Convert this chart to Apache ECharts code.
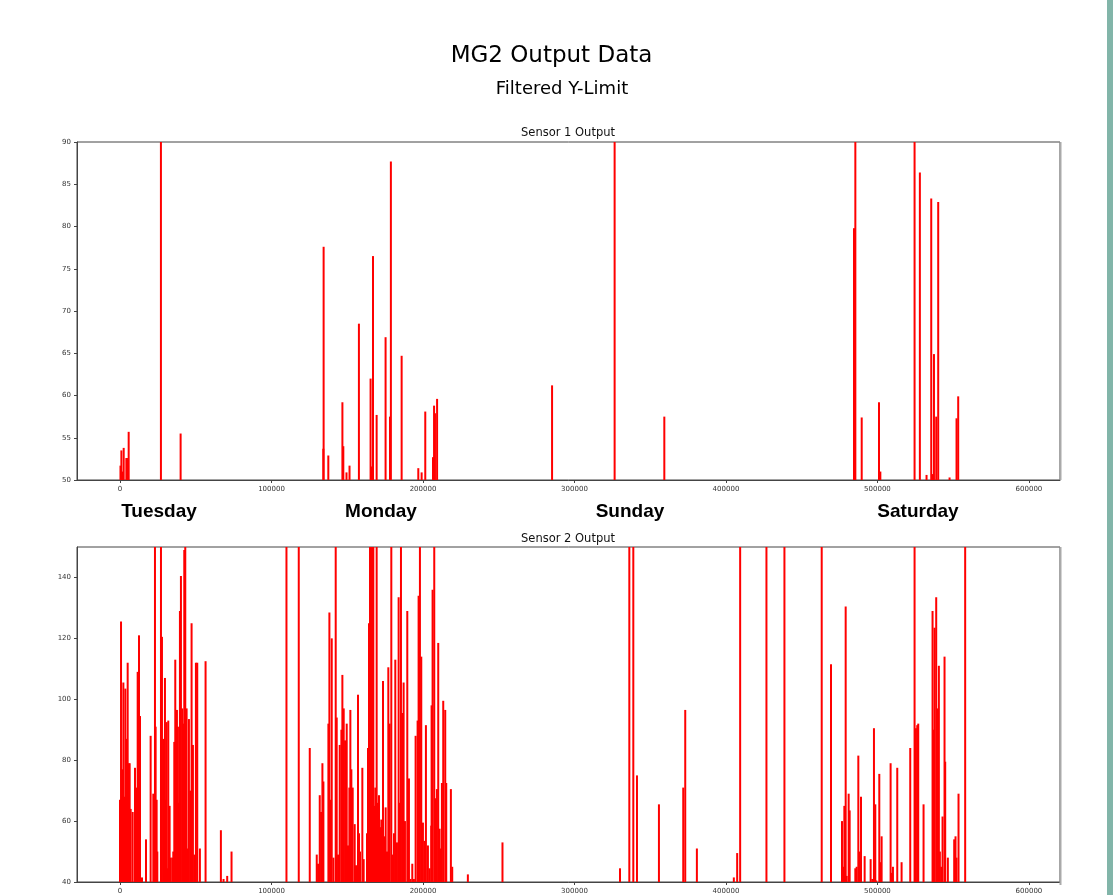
<!DOCTYPE html>
<html><head><meta charset="utf-8">
<script src="https://cdn.jsdelivr.net/npm/echarts@6/dist/echarts.min.js"></script>
<style>html,body{margin:0;padding:0;background:#fff;overflow:hidden}#c{width:1113px;height:895px}</style>
</head><body><div id="c"></div><script>
// ---- data (sample index, sensor value); values above the y-limit are clipped ----
const sensor1X = [300, 900, 1540, 2420, 4170, 4830, 5710, 27000, 40000, 134200, 134400, 137500,
  146800, 147400, 149500, 151500, 157700, 165400, 166300, 167000, 169400, 175300, 178200, 178800,
  185900, 196900, 199100, 201500, 206600, 207300, 207900, 209300, 285200, 326500, 359300, 484500,
  485400, 489600, 501000, 501900, 524500, 528000, 532400, 535500, 536400, 537300, 538800, 540100,
  547600, 552200, 553300];
const sensor1Y = [51.7, 53.5, 51, 53.8, 52.6, 52.6, 55.7, 120, 55.5, 53.7, 77.6, 52.9,
  59.2, 54.0, 50.9, 51.7, 68.5, 62.0, 51.6, 76.5, 57.7, 66.9, 57.5, 87.7,
  64.7, 51.4, 50.9, 58.1, 52.7, 58.8, 57.9, 59.6, 61.2, 120, 57.5, 79.8,
  120, 57.4, 59.2, 51.0, 120, 86.4, 50.6, 83.3, 50.7, 64.9, 57.5, 82.9,
  50.3, 57.3, 59.9];

const sensor2X = [0, 660, 1540, 2200, 2860, 3520, 4390, 5050, 5710, 6370, 7030, 8350, 9890, 10770,
  11650, 12520, 13180, 14500, 17140, 20210, 21970, 23070, 23510, 24170, 24610, 27030, 27690, 28560,
  29660, 30320, 30760, 31200, 31860, 32740, 33400, 34500, 35160, 35820, 36470, 37130, 37570, 38230,
  38890, 39550, 40210, 41090, 41750, 42410, 43070, 43950, 44600, 45480, 46360, 47240, 48120, 49000,
  50100, 50980, 52730, 56470, 66580, 68340, 70750, 73610, 109870, 117990, 125250, 129860, 130740,
  131840, 132720, 133600, 134250, 137550, 138210, 139090, 139750, 140850, 142380, 143040, 143920,
  145020, 146120, 146780, 147660, 148540, 149640, 150510, 151390, 152050, 152710, 153590, 154910,
  155790, 157110, 157770, 158420, 159960, 160840, 163040, 163700, 164360, 165020, 165680, 166340,
  167210, 167870, 168530, 169410, 170070, 170950,
  171830, 172490, 173590, 174250, 175350, 176230, 177110, 177980, 179080, 179960, 180840, 181720,
  182820, 183920, 184580, 185460, 186330, 187210, 188090, 189630, 190730, 191830, 192930, 194020,
  195120, 196440, 197100, 197980, 198860, 199960, 201060, 201930, 203250, 204350, 205450, 205670,
  206330, 207430, 208310, 209190, 210060, 210940, 211600, 212480, 213360, 214680, 215340, 218410,
  219290, 229620, 252470, 330040, 336200, 338830, 341250, 355750, 371790, 373110, 380800,
  405190, 407390, 409360, 426720, 438590, 463200, 469350, 476600, 477260, 478140, 479020, 479680,
  480990, 481650, 485390, 486270, 487370, 488250, 489130, 491540, 495500, 496600, 497690, 498570,
  499230, 501210, 501870, 502750, 508680, 509560, 510220, 513070, 515930, 521640, 524500, 525380,
  526260, 526920, 530430, 536370, 537030, 537690, 538780, 539660, 540540, 541200, 542080, 542960,
  544280, 544720, 546470, 550650, 551530, 552190, 553510, 557900];
const sensor2Y = [67, 125.5, 77, 105.5, 68, 103.5, 87, 112, 79, 79, 64, 63, 77.5, 71,
  109, 121, 94.5, 41.5, 54, 88, 69, 200, 91, 67, 50, 200, 120.5, 87,
  107, 67, 92.5, 44.5, 93, 65, 48, 48, 50, 86, 113, 64.5, 96.5, 91,
  66, 129, 140.5, 97, 92, 149, 200, 97, 51, 93.5, 70, 125, 85, 49,
  112, 112, 51, 112.5, 57, 41, 42, 50, 200, 200, 84, 49, 46,
  68.5, 63, 79, 73, 92, 128.5, 67, 120, 48, 200, 94, 49,
  85, 90, 108, 97, 86.5, 92, 52, 71, 96.5, 77, 71, 59,
  45.5, 101.5, 56, 50, 77.5, 47.5, 56, 84, 125, 200, 93, 200,
  200, 65, 71, 200, 66, 68.5,
  58, 60.5, 106, 55, 64.5, 50, 110.5, 92, 200, 49, 56, 113,
  53, 133.5, 66, 200, 95.5, 105.5, 60, 129, 74, 41, 46, 41,
  88, 93, 134, 200, 114, 59.5, 53.5, 91.5, 52, 44.5, 58.5, 98,
  136, 200, 67.5, 70.5, 118.5, 57.5, 51, 72.5, 99.5, 96.5, 72.5, 70.5,
  45, 42.5, 53, 44.5, 200, 200, 75, 65.5, 71, 96.5, 51,
  41.5, 49.5, 200, 200, 200, 200, 111.5, 60, 45, 65, 130.5, 42,
  69, 63.5, 44.5, 45, 81.5, 50, 68, 48.5, 47.5, 41, 90.5, 65.5,
  40.5, 75.5, 46.5, 55, 79, 43, 45, 77.5, 46.5, 84, 200, 90.5,
  91.5, 92, 65.5, 129, 90, 123.5, 133.5, 97, 111, 50, 45, 61.5,
  114, 79.5, 48, 54, 55, 48, 69, 200];

const xTicks = [0, 100000, 200000, 300000, 400000, 500000, 600000];
const y1Ticks = [50, 55, 60, 65, 70, 75, 80, 85, 90];
const y2Ticks = [40, 60, 80, 100, 120, 140];
const dayLabels = ['Tuesday', 'Monday', 'Sunday', 'Saturday'];
const mainTitle = 'MG2 Output Data';
const subTitle = 'Filtered Y-Limit';
const panelTitles = ['Sensor 1 Output', 'Sensor 2 Output'];

// ---- chart ----
const chart = echarts.init(document.getElementById('c'), null, {renderer: 'canvas'});
const FONT = 'DejaVu Sans';
const AX = '#444';
const grids = [
  {left: 77, top: 142, width: 983, height: 338},
  {left: 77, top: 547, width: 983, height: 338}
];
function xAxis(gi) {
  return {
    type: 'value', gridIndex: gi, min: -28400, max: 620500,
    axisLine: {show: true, onZero: false, lineStyle: {color: AX, width: 1}},
    axisTick: {show: true, length: 3, customValues: xTicks, lineStyle: {color: AX}},
    axisLabel: {show: true, customValues: xTicks, fontSize: 7, color: '#333', fontFamily: FONT,
      margin: 6, formatter: v => String(v)},
    splitLine: {show: false}
  };
}
function yAxis(gi, min, max, ticks) {
  return {
    type: 'value', gridIndex: gi, min: min, max: max,
    axisLine: {show: true, onZero: false, lineStyle: {color: AX, width: 1}},
    axisTick: {show: true, length: 3, customValues: ticks, lineStyle: {color: AX}},
    axisLabel: {show: true, customValues: ticks, fontSize: 7, color: '#333', fontFamily: FONT,
      margin: 6, formatter: v => String(v)},
    splitLine: {show: false}
  };
}
function spikes(xs, ys) { return xs.map((x, i) => [x, ys[i]]); }

const dayX = [159, 381, 630, 918];
const graphics = [
  {type: 'text', x: 551.5, y: 56, style: {text: mainTitle, font: '23px "DejaVu Sans"', fill: '#000', textAlign: 'center', textVerticalAlign: 'middle'}},
  {type: 'text', x: 562, y: 89, style: {text: subTitle, font: '18px "DejaVu Sans"', fill: '#000', textAlign: 'center', textVerticalAlign: 'middle'}},
  {type: 'text', x: 568, y: 133.5, style: {text: panelTitles[0], font: '11.5px "DejaVu Sans"', fill: '#111', textAlign: 'center', textVerticalAlign: 'middle'}},
  {type: 'text', x: 568, y: 539.5, style: {text: panelTitles[1], font: '11.5px "DejaVu Sans"', fill: '#111', textAlign: 'center', textVerticalAlign: 'middle'}},
  {type: 'rect', shape: {x: 1107, y: 0, width: 6, height: 895}, style: {fill: '#82b5a9'}},
  {type: 'line', shape: {x1: 1060.5, y1: 142, x2: 1060.5, y2: 480}, style: {stroke: '#aaa', lineWidth: 2}, z: 100},
  {type: 'line', shape: {x1: 1060.5, y1: 547, x2: 1060.5, y2: 885}, style: {stroke: '#aaa', lineWidth: 2}, z: 100}
];
dayLabels.forEach((d, i) => graphics.push({type: 'text', x: dayX[i], y: 512,
  style: {text: d, font: 'bold 19px "Liberation Sans"', fill: '#000', textAlign: 'center', textVerticalAlign: 'middle'}}));

chart.setOption({
  animation: false,
  backgroundColor: '#fff',
  grid: grids.map(g => Object.assign({show: true, borderColor: AX, borderWidth: 1, backgroundColor: 'transparent'}, g)),
  xAxis: [xAxis(0), xAxis(1)],
  yAxis: [yAxis(0, 50, 90, y1Ticks), yAxis(1, 40, 150, y2Ticks)],
  series: [
    {type: 'bar', xAxisIndex: 0, yAxisIndex: 0, data: spikes(sensor1X, sensor1Y), barWidth: 2,
      itemStyle: {color: '#ff0000'}, clip: true, silent: true},
    {type: 'bar', xAxisIndex: 1, yAxisIndex: 1, data: spikes(sensor2X, sensor2Y), barWidth: 2,
      itemStyle: {color: '#ff0000'}, clip: true, silent: true}
  ],
  graphic: graphics
});
</script></body></html>
